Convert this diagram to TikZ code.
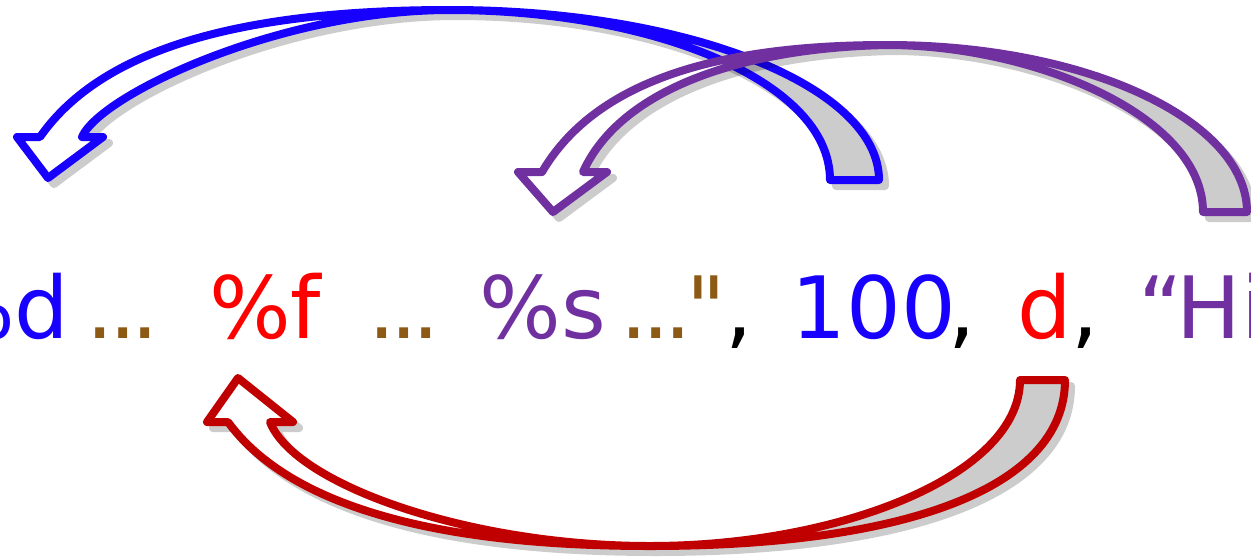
\documentclass[tikz,border=0pt]{standalone}
\usepackage{fontspec}
\setmainfont{DejaVu Sans}
\newfontfamily\plainquote{DejaVu Sans}
\definecolor{blueC}{RGB}{24,0,255}
\definecolor{purpleC}{HTML}{7030A0}
\definecolor{redA}{HTML}{C00000}
\definecolor{redT}{HTML}{FF0000}
\definecolor{brownC}{RGB}{140,90,20}
\definecolor{backC}{HTML}{CCCCCC}
\tikzset{
  arrowline/.style={line width=4pt, line join=round},
  backpart/.style={arrowline, fill=backC},
  frontpart/.style={arrowline, fill=white},
  shadowpart/.style={arrowline, draw=black, fill=black},
  txt/.style={font=\fontsize{43}{50}\selectfont, inner sep=0pt, anchor=base},
}
\newcommand\mydots{.\kern-2.5pt.\kern-2.5pt.}
\newcommand\BlueFront{(40,137) .. controls (96,57) and (220,10) .. (450,10) .. controls (280,10) and (100,95) .. (82,137) -- (103,137) -- (48,178) -- (17,137) -- cycle}
\newcommand\BlueBack{(830,180) -- (879,180) .. controls (879,86) and (687,10) .. (450,10) .. controls (650,10) and (830,80) .. (830,180) -- cycle}
\newcommand\PurpleFront{(542,172) .. controls (589,92) and (694,45) .. (887,45) .. controls (740,48) and (620,90) .. (583,172) -- (607,172) -- (553,212) -- (518,172) -- cycle}
\newcommand\PurpleBack{(1203,212) -- (1247,212) .. controls (1247,120) and (1086,45) .. (887,45) .. controls (1030,45) and (1203,114) .. (1203,212) -- cycle}
\newcommand\RedFront{(228,422) .. controls (285,500) and (420,546) .. (650,546) .. controls (470,546) and (295,485) .. (270,422) -- (293,422) -- (238,378) -- (207,422) -- cycle}
\newcommand\RedBack{(1020,380) -- (1065,380) .. controls (1065,490) and (900,546) .. (650,546) .. controls (840,546) and (1020,475) .. (1020,380) -- cycle}
\begin{document}
\begin{tikzpicture}[x=0.5pt,y=-0.5pt]
  \useasboundingbox[fill=white] (0,0) rectangle (1251,557);
  % blue arrow
  \begin{scope}[transparency group, opacity=0.2, shift={(6,6)}]
    \filldraw[shadowpart] \BlueBack;
    \filldraw[shadowpart] \BlueFront;
  \end{scope}
  \filldraw[backpart, draw=blueC] \BlueBack;
  \filldraw[frontpart, draw=blueC] \BlueFront;
  % purple arrow
  \begin{scope}[transparency group, opacity=0.2, shift={(6,6)}]
    \filldraw[shadowpart] \PurpleBack;
    \filldraw[shadowpart] \PurpleFront;
  \end{scope}
  \filldraw[backpart, draw=purpleC] \PurpleBack;
  \filldraw[frontpart, draw=purpleC] \PurpleFront;
  % red arrow
  \begin{scope}[transparency group, opacity=0.2, shift={(6,6)}]
    \filldraw[shadowpart] \RedBack;
    \filldraw[shadowpart] \RedFront;
  \end{scope}
  \filldraw[backpart, draw=redA] \RedBack;
  \filldraw[frontpart, draw=redA] \RedFront;
  % text
  \node[txt, text=blueC, anchor=base east] (pd) at (70,338) {\%d};
  \node[txt, text=brownC] (dotsA) at (123,338) {\mydots};
  \node[txt, text=redT] (pf) at (265,338) {\%f};
  \node[txt, text=brownC] (dotsB) at (404,338) {\mydots};
  \node[txt, text=purpleC] (ps) at (543,338) {\%s};
  \node[txt, text=brownC] (dotsC) at (656,338) {\mydots};
  \node[txt, text=brownC] (quoteA) at (706,338) {\plainquote "};
  \node[txt, text=black] (commaA) at (739,338) {,};
  \node[txt, text=blueC] (hundred) at (874,338) {100};
  \node[txt, text=black] (commaB) at (962,338) {,};
  \node[txt, text=redT] (dvar) at (1045,338) {d};
  \node[txt, text=black] (commaC) at (1085,338) {,};
  \node[txt, text=purpleC] (quoteB) at (1161,338) {“};
  \node[txt, text=purpleC, anchor=base west] (hi) at (1176,338) {Hi};
\end{tikzpicture}
\end{document}
